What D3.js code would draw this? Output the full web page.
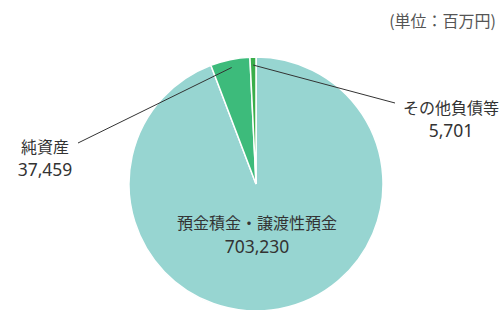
<!DOCTYPE html>
<html>
<head>
<meta charset="utf-8">
<script src="https://cdn.jsdelivr.net/npm/d3@7"></script>
<style>
  body { margin: 0; background: #fff; }
  text { font-family: "Noto Sans CJK JP", "Noto Sans", sans-serif; fill: #333; }
  text.num { font-family: "Noto Sans", "Open Sans", sans-serif; }
</style>
</head>
<body>
<div id="chart"></div>
<script>
// data (百万円)
const labels = ['預金積金・譲渡性預金', '純資産', 'その他負債等'];
const values = [703230, 37459, 5701];
const colors = ['#97d5d1', '#3dbb7b', '#3aae4a'];

const width = 502, height = 310;
const cx = 256, cy = 184, radius = 127;

const svg = d3.select('#chart')
    .append('svg')
    .attr('width', width)
    .attr('height', height);

// unit label
svg.append('text')
    .attr('x', 496)
    .attr('y', 27)
    .attr('text-anchor', 'end')
    .style('font-size', '16px')
    .style('fill', '#555')
    .text('(単位：百万円)');

const g = svg.append('g')
    .attr('transform', `translate(${cx},${cy})`);

const pie = d3.pie().sort(null).value((d) => d)(values);

const arc = d3.arc().innerRadius(0).outerRadius(radius);
const innerArc = d3.arc().innerRadius(119).outerRadius(119);

g.selectAll('.slice')
    .data(pie)
    .enter()
    .append('path')
    .attr('class', 'slice')
    .attr('d', arc)
    .attr('fill', (d, i) => colors[i])
    .attr('stroke', '#fff')
    .attr('stroke-width', 1.5);

const fmt = d3.format(',');

// big slice label inside
g.append('text')
    .attr('x', 1)
    .attr('y', 45)
    .attr('text-anchor', 'middle')
    .style('font-size', '16px')
    .text(labels[0]);
g.append('text')
    .attr('class', 'num')
    .attr('x', 1)
    .attr('y', 69)
    .attr('text-anchor', 'middle')
    .style('font-size', '17.5px')
    .text(fmt(values[0]));

// outside labels with leader lines
const outside = [
    { i: 1, lineEnd: [78 - cx, 143 - cy], text: [45 - cx, 153 - cy] },
    { i: 2, lineEnd: [395 - cx, 103 - cy], text: [451 - cx, 114 - cy] }
];

outside.forEach((o) => {
    const start = innerArc.centroid(pie[o.i]);
    g.append('line')
        .attr('x1', start[0])
        .attr('y1', start[1])
        .attr('x2', o.lineEnd[0])
        .attr('y2', o.lineEnd[1])
        .attr('stroke', '#333')
        .attr('stroke-width', 1);
    g.append('text')
        .attr('x', o.text[0])
        .attr('y', o.text[1])
        .attr('text-anchor', 'middle')
        .style('font-size', '16px')
        .text(labels[o.i]);
    g.append('text')
        .attr('class', 'num')
        .attr('x', o.text[0])
        .attr('y', o.text[1] + 23)
        .attr('text-anchor', 'middle')
        .style('font-size', '17.5px')
        .text(fmt(values[o.i]));
});
</script>
</body>
</html>
